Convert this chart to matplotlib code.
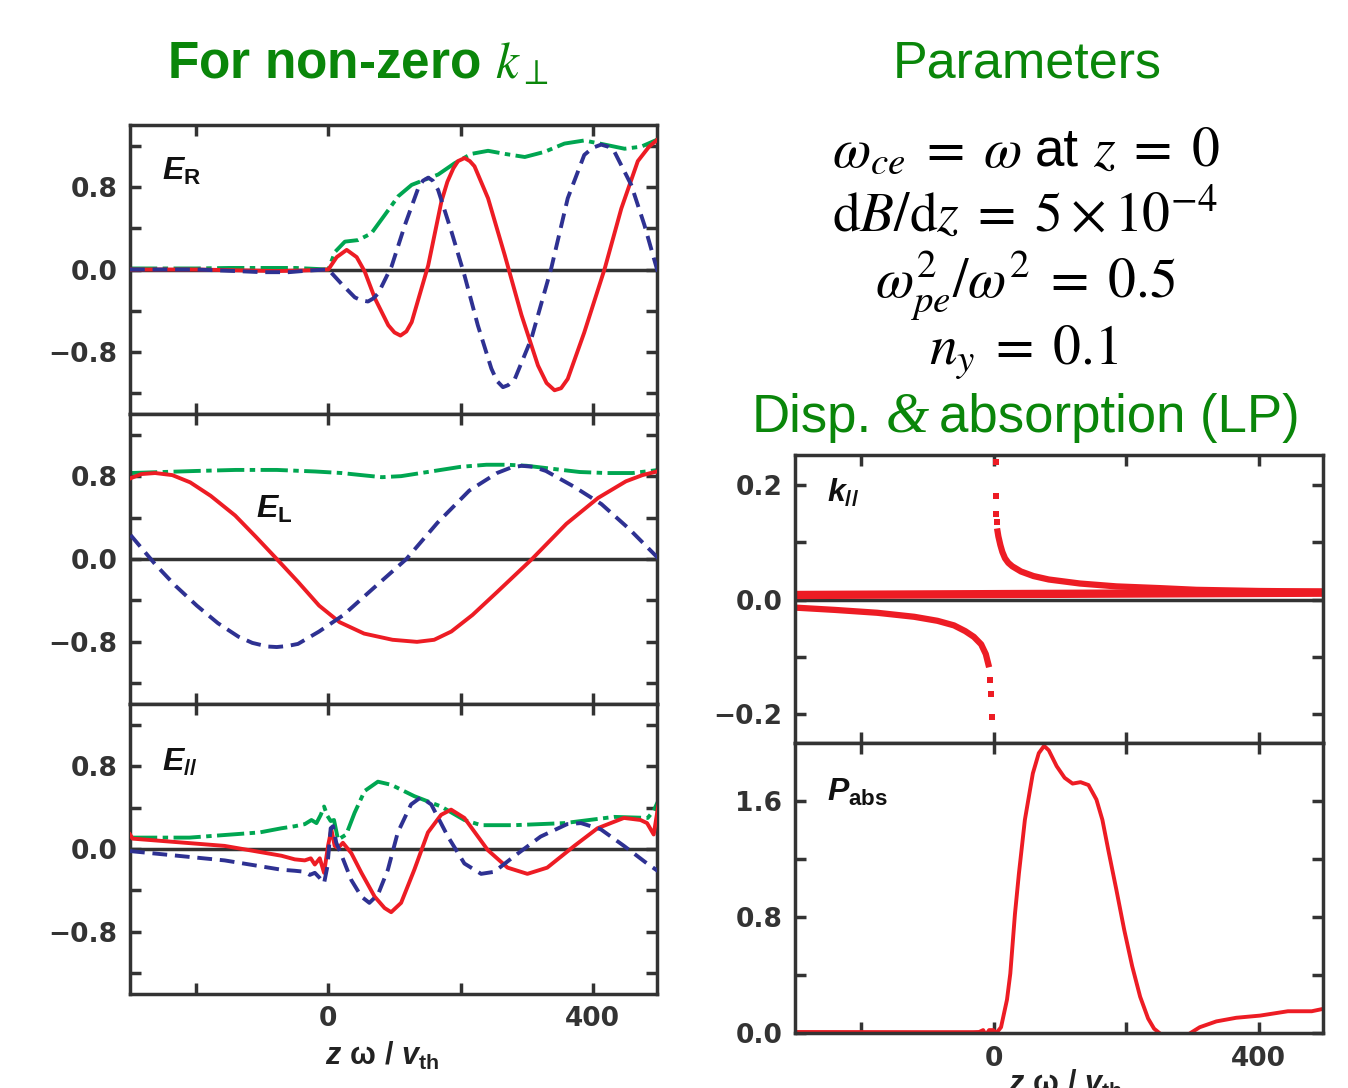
import numpy as np
import matplotlib
matplotlib.use("Agg")
import matplotlib.pyplot as plt

plt.rcParams['font.family'] = ['Liberation Sans', 'DejaVu Sans']
plt.rcParams['mathtext.fontset'] = 'stix'
plt.rcParams['mathtext.rm'] = 'Liberation Sans:bold'
plt.rcParams['mathtext.it'] = 'Liberation Sans:italic:bold'
plt.rcParams['mathtext.bf'] = 'Liberation Sans:bold'
plt.rcParams['mathtext.sf'] = 'Liberation Sans'

RED = '#ED1C24'
BLUE = '#2E3192'
GREEN = '#00A651'
TGREEN = '#0A860A'
DARK = '#333333'

# ---- E_R panel ----
er_red_x = [-300, -200, -120, -80, -40, 0, 12.6, 27.7, 42.8, 55, 70.4, 90.6, 100, 109, 118, 126, 141, 151, 171, 180, 189, 196, 206, 214, 221, 241.5, 266.7, 292, 317, 330, 342, 352, 362, 387, 418, 443, 468, 485, 498]
er_red_y = [0.0, 0.0, -0.01, -0.015, -0.01, 0.0, 0.12, 0.19, 0.12, -0.02, -0.28, -0.54, -0.61, -0.64, -0.60, -0.51, -0.18, 0.04, 0.66, 0.85, 0.98, 1.05, 1.08, 1.05, 1.00, 0.69, 0.14, -0.44, -0.93, -1.10, -1.17, -1.15, -1.06, -0.61, 0.01, 0.59, 1.05, 1.19, 1.26]
er_blue_x = [-300, -200, -140, -100, -60, -30, 0, 20, 40, 50, 60, 68, 75.5, 95.6, 115.7, 136, 143, 151, 158, 166, 186, 206, 226, 246.5, 255, 264, 272, 282, 307, 337, 362, 387, 400, 412.6, 423, 432.7, 458, 478, 498]
er_blue_y = [0.0, 0.0, -0.015, -0.026, -0.026, -0.01, 0.0, -0.14, -0.27, -0.30, -0.31, -0.28, -0.23, 0.03, 0.43, 0.79, 0.86, 0.89, 0.86, 0.77, 0.37, -0.06, -0.54, -0.96, -1.08, -1.14, -1.12, -1.06, -0.67, 0.01, 0.69, 1.11, 1.18, 1.21, 1.19, 1.14, 0.82, 0.43, -0.02]
er_green_x = [-300, -200, -150, -50, 0, 10, 25, 45, 65, 85.5, 105.7, 126, 146, 166, 191, 216, 241.5, 267, 297, 327, 357, 387, 418, 448, 473, 498]
er_green_y = [0.01, 0.01, 0.015, 0.015, 0.0, 0.17, 0.27, 0.285, 0.35, 0.53, 0.71, 0.82, 0.87, 0.92, 1.03, 1.12, 1.15, 1.12, 1.09, 1.14, 1.22, 1.25, 1.21, 1.17, 1.19, 1.26]

# ---- E_L panel ----
el_red_x = [-299, -283, -262, -236, -209, -178, -141, -109, -78, -46, -14, 17, 54, 97, 134, 160, 186, 218, 255, 308, 360, 408, 450, 475, 500]
el_red_y = [0.78, 0.82, 0.83, 0.81, 0.74, 0.61, 0.42, 0.21, 0.0, -0.22, -0.45, -0.61, -0.72, -0.78, -0.80, -0.78, -0.70, -0.54, -0.32, 0.0, 0.34, 0.59, 0.75, 0.81, 0.85]
el_blue_x = [-299, -262, -231, -199, -167, -136, -115, -92, -78, -62, -46, -14, 23, 65, 118, 165, 213, 255, 275, 292, 310, 329, 371, 413, 455, 500]
el_blue_y = [0.23, -0.05, -0.26, -0.45, -0.62, -0.75, -0.81, -0.845, -0.85, -0.84, -0.82, -0.70, -0.54, -0.30, 0.0, 0.35, 0.66, 0.83, 0.88, 0.90, 0.89, 0.85, 0.70, 0.53, 0.29, 0.0]
el_green_x = [-300, -250, -200, -140, -78, -20, 20, 50, 81, 110, 140, 170, 200, 239, 270, 300, 340, 380, 420, 460, 500]
el_green_y = [0.83, 0.84, 0.85, 0.86, 0.86, 0.845, 0.83, 0.81, 0.79, 0.80, 0.83, 0.86, 0.89, 0.91, 0.91, 0.90, 0.87, 0.84, 0.83, 0.83, 0.86]

# ---- E_par panel ----
ep_green_x = [-300, -210, -104, -71, -50.8, -35.7, -25.6, -18, -11.5, -6.5, -1.5, 3.5, 8.5, 14.6, 27, 39.7, 54.8, 74.9, 95, 130, 170.5, 205.7, 231, 281, 357, 432, 483, 492, 500]
ep_green_y = [0.11, 0.11, 0.16, 0.20, 0.22, 0.24, 0.28, 0.25, 0.33, 0.41, 0.32, 0.27, 0.28, 0.09, 0.14, 0.35, 0.56, 0.65, 0.62, 0.51, 0.41, 0.28, 0.23, 0.23, 0.25, 0.31, 0.30, 0.37, 0.48]
ep_red_x = [-300, -296, -157, -71, -50.8, -35.7, -26.6, -20.5, -13, -6.5, -0.5, 4.5, 9.5, 14.6, 22, 34.7, 50, 70, 85, 95, 110, 130, 150.6, 170.5, 185.6, 205.7, 241, 271, 301, 331, 372, 407, 447, 472, 482, 492, 498, 500]
ep_red_y = [0.14, 0.10, 0.03, -0.065, -0.10, -0.11, -0.09, -0.15, -0.09, -0.23, 0.03, 0.19, 0.03, 0.01, 0.06, -0.04, -0.23, -0.46, -0.57, -0.61, -0.52, -0.20, 0.16, 0.33, 0.38, 0.30, -0.01, -0.18, -0.24, -0.18, 0.03, 0.20, 0.30, 0.28, 0.25, 0.14, 0.38, 0.45]
ep_blue_x = [-300, -157, -71, -50.8, -35.7, -28, -20.5, -13, -6.5, -1.5, 3.5, 7, 12, 19.6, 34.7, 50, 62, 75, 90, 105, 125, 140, 155.6, 180.8, 205.7, 231, 251, 281, 321, 361, 382, 412, 447, 482, 500]
ep_blue_y = [-0.02, -0.11, -0.20, -0.21, -0.22, -0.25, -0.23, -0.28, -0.33, -0.17, 0.20, 0.22, 0.06, -0.055, -0.30, -0.46, -0.52, -0.44, -0.20, 0.16, 0.43, 0.50, 0.43, 0.12, -0.14, -0.24, -0.22, -0.07, 0.12, 0.24, 0.25, 0.19, 0.03, -0.14, -0.22]

# ---- k_par panel ----
kz_x = [-300, -100, 100, 300, 500]
kz_y = [0.008, 0.009, 0.010, 0.011, 0.012]
kneg_x = [-300, -240, -176, -120, -85, -60, -43, -30, -19, -12, -7]
kneg_y = [-0.014, -0.018, -0.023, -0.030, -0.037, -0.045, -0.055, -0.065, -0.078, -0.095, -0.118]
kneg_dots_x = [-5, -4, -3]
kneg_dots_y = [-0.14, -0.165, -0.204]
kpos_x = [5, 7, 10, 13, 17, 22, 28, 41, 60, 83, 130, 185, 250, 306, 400, 500]
kpos_y = [0.124, 0.11, 0.095, 0.083, 0.072, 0.064, 0.058, 0.049, 0.041, 0.035, 0.028, 0.023, 0.020, 0.017, 0.015, 0.014]
kpos_dots_x = [3, 3.5, 4, 4.5]
kpos_dots_y = [0.24, 0.18, 0.15, 0.135]

# ---- P_abs panel ----
pa_x = [-300, -100, -31, -22, -16, -12, -7, -1, 4, 11, 20, 25, 32, 38, 47, 59, 68, 76, 83, 95, 107, 119, 131, 143, 155, 164, 173, 185, 197, 209, 221, 233, 242, 250, 265, 282, 297, 311, 336, 366, 402, 444, 480, 501]
pa_y = [0.007, 0.006, 0.006, 0.007, 0.02, -0.015, 0.02, 0.02, 0.0, 0.04, 0.23, 0.41, 0.82, 1.10, 1.47, 1.79, 1.93, 1.98, 1.95, 1.84, 1.76, 1.72, 1.73, 1.71, 1.61, 1.47, 1.26, 0.99, 0.71, 0.46, 0.25, 0.10, 0.03, 0.0, -0.05, -0.05, 0.0, 0.04, 0.08, 0.105, 0.12, 0.15, 0.15, 0.17]

xticks = [-200, 0, 200, 400]
xticklabels = ['', '0', '', '400']

W, H = 1348, 1088
fig = plt.figure(figsize=(W / 100, H / 100), dpi=100)


def px_axes(x0, y0, x1, y1):
    return fig.add_axes([x0 / W, 1 - y1 / H, (x1 - x0) / W, (y1 - y0) / H])


def style(ax, yticks, ylabels, show_x):
    ax.set_xlim(-300, 497)
    ax.set_xticks(xticks)
    ax.set_xticklabels(xticklabels if show_x else [''] * 4)
    ax.set_yticks(yticks)
    ax.set_yticklabels(ylabels)
    ax.tick_params(direction='in', length=8, width=2.5, color=DARK, top=True, right=True,
                   labelsize=19, labelcolor=DARK, pad=9)
    for lab in ax.get_xticklabels() + ax.get_yticklabels():
        lab.set_fontweight('bold')
        lab.set_family('DejaVu Sans')
    for sp in ax.spines.values():
        sp.set_linewidth(2.5)
        sp.set_color(DARK)


def efield(ax, gx, gy, rx, ry, bx, by):
    ax.axhline(0, color=DARK, lw=2.5, zorder=1)
    ax.plot(gx, gy, color=GREEN, lw=2.8, dashes=(7, 1.4, 1.4, 1.4), zorder=2)
    ax.plot(rx, ry, color=RED, lw=2.8, zorder=3)
    ax.plot(bx, by, color=BLUE, lw=2.8, dashes=(3.8, 2), zorder=4)
    ax.set_ylim(-1.4, 1.4)


ey_ticks = [-1.2, -0.8, -0.4, 0.0, 0.4, 0.8, 1.2]
ey_labels = ['', '\u22120.8', '', '0.0', '', '0.8', '']
xlab = r'$z\ \mathrm{\omega}\ /\ v_{\mathrm{th}}$'

ax1 = px_axes(130, 125, 657, 414)
efield(ax1, er_green_x, er_green_y, er_red_x, er_red_y, er_blue_x, er_blue_y)
style(ax1, ey_ticks, ey_labels, False)

ax2 = px_axes(130, 414, 657, 704)
efield(ax2, el_green_x, el_green_y, el_red_x, el_red_y, el_blue_x, el_blue_y)
style(ax2, ey_ticks, ey_labels, False)

ax3 = px_axes(130, 704, 657, 994)
efield(ax3, ep_green_x, ep_green_y, ep_red_x, ep_red_y, ep_blue_x, ep_blue_y)
style(ax3, ey_ticks, ey_labels, True)
ax3.set_xlabel(xlab, fontsize=22, color='#222222', math_fontfamily='custom')
ax3.xaxis.set_label_coords(0.478, -0.16)

ax4 = px_axes(795, 455, 1323, 743)
ax4.axhline(0, color=DARK, lw=2.5, zorder=1)
ax4.plot(kz_x, kz_y, color=RED, lw=6, solid_capstyle='butt', zorder=2)
ax4.plot(kneg_x, kneg_y, color=RED, lw=4.5, solid_capstyle='butt', zorder=2)
ax4.plot(kpos_x, kpos_y, color=RED, lw=4.5, solid_capstyle='butt', zorder=2)
ax4.plot(kneg_dots_x, kneg_dots_y, 's', color=RED, ms=4.5, mew=0, zorder=2)
ax4.plot(kpos_dots_x, kpos_dots_y, 's', color=RED, ms=4.5, mew=0, zorder=2)
ax4.set_ylim(-0.25, 0.252)
style(ax4, [-0.2, -0.1, 0.0, 0.1, 0.2], ['\u22120.2', '', '0.0', '', '0.2'], False)

ax5 = px_axes(795, 743, 1323, 1033)
ax5.plot(pa_x, pa_y, color=RED, lw=2.8, zorder=2)
ax5.set_ylim(0, 2.0)
style(ax5, [0.0, 0.4, 0.8, 1.2, 1.6], ['0.0', '', '0.8', '', '1.6'], True)
ax5.set_xlabel(xlab, fontsize=22, color='#222222', math_fontfamily='custom')
ax5.xaxis.set_label_coords(0.511, -0.12)

# panel labels
lab_kw = dict(fontsize=23, color='#111111', math_fontfamily='custom', ha='left', va='center')
ax1.text(0.06, 0.84, r'$E_{\mathrm{R}}$', transform=ax1.transAxes, **lab_kw)
ax2.text(0.24, 0.67, r'$E_{\mathrm{L}}$', transform=ax2.transAxes, **lab_kw)
ax3.text(0.06, 0.80, r'$E_{//}$', transform=ax3.transAxes, **lab_kw)
ax4.text(0.06, 0.87, r'$k_{//}$', transform=ax4.transAxes, **lab_kw)
ax5.text(0.06, 0.83, r'$P_{\mathrm{abs}}$', transform=ax5.transAxes, **lab_kw)


def ftext(x, y, s, **kw):
    return fig.text(x / W, 1 - y / H, s, **kw)


# headings
ftext(358, 78, r'For non-zero $k_{\perp}$', fontsize=37, fontweight='bold',
      color=TGREEN, ha='center', va='baseline', math_fontfamily='stix')
ftext(1027, 78, 'Parameters', fontsize=37.5, color=TGREEN, ha='center', va='baseline')
ftext(752, 432, 'Disp.', fontsize=38, color=TGREEN, ha='left', va='baseline')
ftext(907, 432, '&', fontsize=40, color=TGREEN, ha='center', va='baseline',
      family='Liberation Serif', style='italic')
ftext(1300, 432, 'absorption (LP)', fontsize=38, color=TGREEN, ha='right', va='baseline')

par_kw = dict(fontsize=40, color='black', va='baseline', math_fontfamily='stix')
ftext(1022, 166, r'$\omega_{ce}\;=\;\omega$', ha='right', **par_kw)
ftext(1057, 166, 'at', fontsize=38, color='black', ha='center', va='baseline')
ftext(1093, 166, r'$z\;=\;0$', ha='left', **par_kw)
ftext(1025, 231, r'$\mathrm{d}B/\mathrm{d}z\;=\;5\times10^{-4}$', ha='center', **par_kw)
ftext(1025, 297, r'$\omega_{pe}^{2}/\omega^{2}\;=\;0.5$', ha='center', **par_kw)
ftext(1024, 365, r'$n_{y}\;=\;0.1$', ha='center', **par_kw)

fig.savefig('out.png', dpi=100)
